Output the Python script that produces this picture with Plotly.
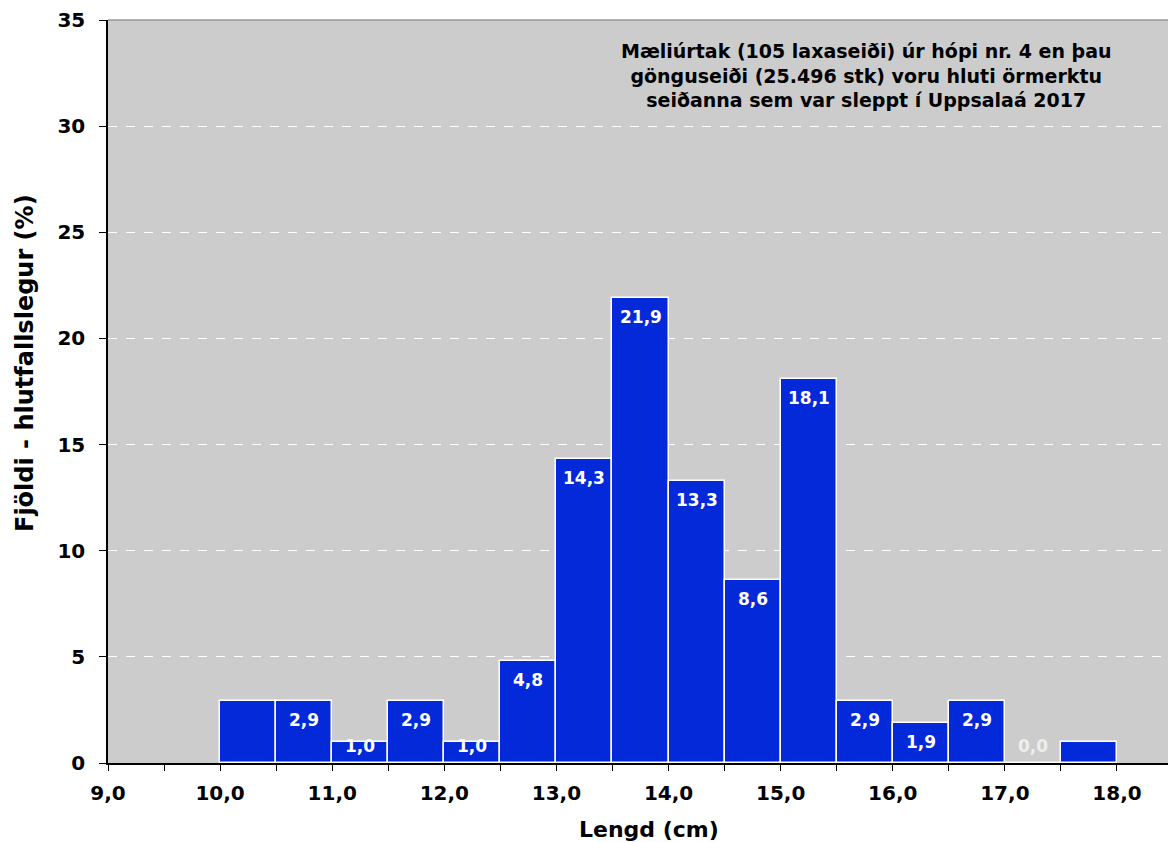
import plotly.graph_objects as go

# Length classes (lower edge, cm) and share of the sample (%)
bin_lower = [10.0, 10.5, 11.0, 11.5, 12.0, 12.5, 13.0, 13.5,
             14.0, 14.5, 15.0, 15.5, 16.0, 16.5, 17.0, 17.5]
percent = [2.9, 2.9, 1.0, 2.9, 1.0, 4.8, 14.3, 21.9,
           13.3, 8.6, 18.1, 2.9, 1.9, 2.9, 0.0, 1.0]
# Which classes carry a value label
show_label = [False, True, True, True, True, True, True, True,
              True, True, True, True, True, True, True, False]

bin_width = 0.5
x_ticks = [9.0, 10.0, 11.0, 12.0, 13.0, 14.0, 15.0, 16.0, 17.0, 18.0]
y_ticks = [0, 5, 10, 15, 20, 25, 30, 35]
note_lines = [
    "Mæliúrtak (105 laxaseiði) úr hópi nr. 4 en þau",
    "gönguseiði (25.496 stk) voru hluti örmerktu",
    "seiðanna sem var sleppt í Uppsalaá 2017",
]
x_title = "Lengd (cm)"
y_title = "Fjöldi - hlutfallslegur (%)"

FONT = "DejaVu Sans"
W, H = 1168, 842
M_L, M_R, M_T, M_B = 108, 0, 20, 79
Y_MAX = 35
X_RANGE = [9.0, 18.455]
BAR_BLUE = "#0329D9"

plot_w = W - M_L - M_R
plot_h = H - M_T - M_B
centers = [b + bin_width / 2 for b in bin_lower]

fig = go.Figure()
fig.add_trace(go.Bar(
    x=centers,
    y=percent,
    width=bin_width,
    marker=dict(color=BAR_BLUE, line=dict(color="white", width=1.5)),
    hoverinfo="x+y",
))

# Value labels: just inside the bar top, kept above the baseline for short bars
px_per_unit = plot_h / Y_MAX
annotations = []
for xc, v, show in zip(centers, percent, show_label):
    if not show:
        continue
    txt = f"{v:.1f}".replace(".", ",")
    if v * px_per_unit - 19 >= 17:
        y, shift = v, -19
    else:
        y, shift = 0, 17
    annotations.append(dict(
        x=xc, y=y, xref="x", yref="y", text=f"<b>{txt}</b>", showarrow=False,
        yanchor="middle", xanchor="center", yshift=shift,
        font=dict(family=FONT, size=17, color="white" if v > 0 else "#EEEEEE"),
    ))

# Note in the upper right corner
annotations.append(dict(
    x=(866 - M_L) / plot_w, y=1, xref="paper", yref="paper",
    text="<br>".join(f"<b>{s}</b>" for s in note_lines),
    showarrow=False, xanchor="center", yanchor="top", yshift=-18, align="center",
    font=dict(family=FONT, size=19, color="black"),
))

# Axis titles
annotations.append(dict(
    x=(649 - M_L) / plot_w, y=0, xref="paper", yref="paper",
    text=f"<b>{x_title}</b>", showarrow=False, xanchor="center", yanchor="middle",
    yshift=-66, font=dict(family=FONT, size=22, color="black"),
))
annotations.append(dict(
    x=0, y=(H - M_B - 363) / plot_h, xref="paper", yref="paper",
    text=f"<b>{y_title}</b>", showarrow=False, textangle=-90,
    xanchor="center", yanchor="middle", xshift=25 - M_L,
    font=dict(family=FONT, size=24, color="black"),
))

fig.update_layout(
    width=W, height=H,
    margin=dict(l=M_L, r=M_R, t=M_T, b=M_B, pad=0),
    paper_bgcolor="white",
    plot_bgcolor="#CCCCCC",
    separators=", ",
    showlegend=False,
    bargap=0,
    annotations=annotations,
    font=dict(family=FONT, color="black"),
    xaxis=dict(
        range=X_RANGE,
        tickvals=x_ticks,
        tickformat=".1f",
        ticks="outside", ticklen=6, tickwidth=1.3, tickcolor="black",
        minor=dict(dtick=0.5, tick0=9.0, ticks="outside", ticklen=6,
                   tickwidth=1.3, tickcolor="black", showgrid=False),
        showline=True, linecolor="black", linewidth=1.5,
        showgrid=False, zeroline=False,
        tickfont=dict(family=FONT, size=20, color="black", weight="bold"),
        ticklabelstandoff=5,
    ),
    yaxis=dict(
        range=[0, Y_MAX],
        tickvals=y_ticks,
        ticks="outside", ticklen=7, tickwidth=1.3, tickcolor="black",
        showline=True, linecolor="black", linewidth=1.5,
        showgrid=True, gridcolor="white", griddash="dash", gridwidth=1,
        zeroline=False,
        tickfont=dict(family=FONT, size=20, color="black", weight="bold"),
        ticklabelstandoff=10,
    ),
    shapes=[dict(type="line", xref="paper", yref="paper", x0=0, x1=1, y0=1, y1=1,
                 line=dict(color="#999999", width=1.5), layer="above")],
)

fig.write_html("out.html")
